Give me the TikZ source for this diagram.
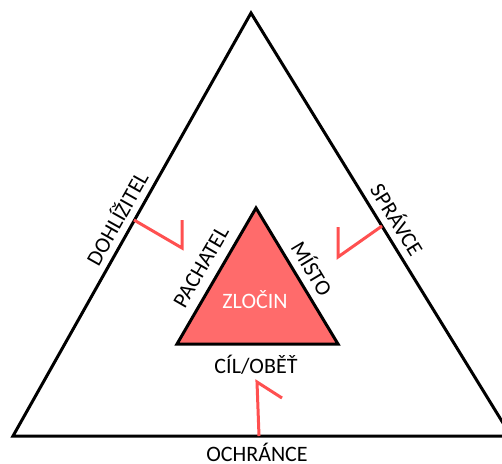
\documentclass[tikz,border=0pt]{standalone}
\usepackage{fontspec}
\setmainfont{Carlito}
\definecolor{lever}{RGB}{255,80,80}
\definecolor{crimefill}{RGB}{255,107,107}
\begin{document}
\begin{tikzpicture}[x=1pt,y=-1pt,
  edge/.style={draw=black,line width=3pt,line join=miter},
  leverline/.style={draw=lever,line width=3pt},
  lbl/.style={font=\fontsize{22}{25}\selectfont,inner sep=0pt,anchor=center},
  basel/.style={lbl,anchor=base}]
\useasboundingbox (0,0) rectangle (502,463);
\begin{scope}
\clip (0,0) rectangle (502,463);
% outer triangle
\coordinate (A) at (251,13);
\coordinate (L) at (13,436);
\coordinate (R) at (511,436);
\draw[edge] (A) -- (L) -- (R) -- cycle;
% inner triangle
\coordinate (a) at (256,208);
\coordinate (l) at (177,344);
\coordinate (r) at (338,344);
\draw[edge,fill=crimefill] (a) -- (l) -- (r) -- cycle;
% levers
\coordinate (p1) at (134,220);
\coordinate (p2) at (182,248);
\coordinate (p3) at (182,220);
\draw[leverline] (p1) -- (p2) -- (p3);
\coordinate (q1) at (382,226);
\coordinate (q2) at (338,257);
\coordinate (q3) at (338,227);
\draw[leverline] (q1) -- (q2) -- (q3);
\coordinate (s1) at (259,436);
\coordinate (s2) at (257,382);
\coordinate (s3) at (282,398);
\draw[leverline] (s1) -- (s2) -- (s3);
\end{scope}
% labels
\node[basel,text=white] (crime) at (255,308) {ZLOČIN};
\node[basel] (victim) at (256,373) {CÍL/OBĚŤ};
\node[basel] (guardian) at (257,461) {OCHRÁNCE};
\node[lbl,rotate=60] (offender) at (201,267) {PACHATEL};
\node[lbl,rotate=-59] (place) at (313,268) {MÍSTO};
\node[lbl,rotate=60.6] (handler) at (116,218) {DOHLÍŽITEL};
\node[lbl,rotate=-58.4] (manager) at (398,219) {SPRÁVCE};
\end{tikzpicture}
\end{document}
